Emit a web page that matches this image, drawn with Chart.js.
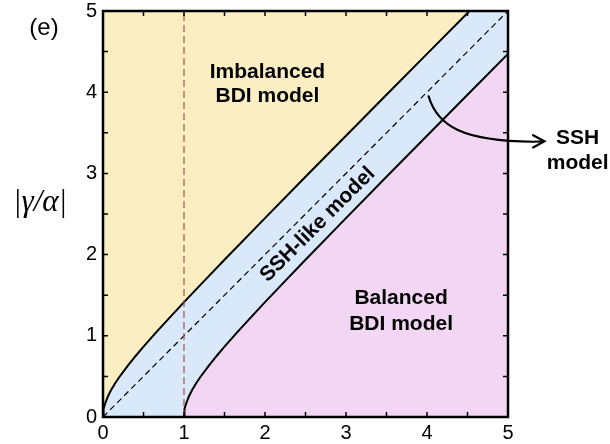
<!DOCTYPE html>
<html><head><meta charset="utf-8">
<script src="https://cdn.jsdelivr.net/npm/chart.js@4"></script>
<style>html,body{margin:0;padding:0;background:#fff}canvas{display:block}</style>
</head><body>
<canvas id="c" width="610" height="444"></canvas>
<script>
// Upper phase boundary (Imbalanced / SSH-like)
const upperX = [0,0.002,0.01,0.03,0.06,0.1,0.15,0.2,0.3,0.4,0.5,0.65,0.8,1,1.25,1.5,2,2.5,3,3.5,4,4.525];
const upperY = [0,0.0448,0.1005,0.1758,0.2522,0.3317,0.4153,0.4899,0.6245,0.7483,0.8660,1.0356,1.2,1.4142,1.6771,1.9365,2.4495,2.9580,3.4641,3.9686,4.4721,5.0];
// Lower phase boundary (SSH-like / Balanced)
const lowerX = [1,1.002,1.01,1.03,1.06,1.1,1.15,1.2,1.3,1.4,1.5,1.65,1.8,2,2.25,2.5,3,3.5,4,4.5,5];
const lowerY = [0,0.0448,0.1005,0.1758,0.2522,0.3317,0.4153,0.4899,0.6245,0.7483,0.8660,1.0356,1.2,1.4142,1.6771,1.9365,2.4495,2.9580,3.4641,3.9686,4.4721];
// SSH line and vertical reference line
const sshX = [0,5];
const sshY = [0,5];
const refX = [1,1];
const refY = [0,5];
const xTickLabels = [0,1,2,3,4,5];
const yTickLabels = [0,1,2,3,4,5];

const YELLOW = 'rgb(250,238,194)';
const BLUE = 'rgb(217,233,250)';
const PINK = 'rgb(243,214,244)';
const FONT = '"Liberation Sans", Arial, Helvetica, sans-serif';

const pts = (xs, ys) => xs.map((x, i) => ({x, y: ys[i]}));

const deco = {
  id: 'deco',
  beforeDatasetsDraw(chart) {
    const {ctx, chartArea: a} = chart;
    ctx.save();
    ctx.fillStyle = BLUE;
    ctx.fillRect(a.left, a.top, a.right - a.left, a.bottom - a.top);
    ctx.restore();
  },
  afterDatasetsDraw(chart) {
    const {ctx, chartArea: a, scales} = chart;
    const X = v => scales.x.getPixelForValue(v);
    const Y = v => scales.y.getPixelForValue(v);
    ctx.save();
    // inward ticks
    ctx.strokeStyle = '#000';
    ctx.lineWidth = 1.5;
    const L = 5;
    scales.x.ticks.forEach(t => {
      const p = X(t.value);
      ctx.beginPath();
      ctx.moveTo(p, a.bottom); ctx.lineTo(p, a.bottom - L);
      ctx.moveTo(p, a.top); ctx.lineTo(p, a.top + L);
      ctx.stroke();
    });
    scales.y.ticks.forEach(t => {
      const p = Y(t.value);
      ctx.beginPath();
      ctx.moveTo(a.left, p); ctx.lineTo(a.left + L, p);
      ctx.moveTo(a.right, p); ctx.lineTo(a.right - L, p);
      ctx.stroke();
    });
    // frame
    ctx.lineWidth = 2.5;
    ctx.strokeRect(a.left, a.top, a.right - a.left, a.bottom - a.top);

    // region labels
    ctx.fillStyle = '#000';
    ctx.textAlign = 'center';
    ctx.textBaseline = 'middle';
    ctx.font = 'bold 21px ' + FONT;
    ctx.fillText('Imbalanced', X(2.03), Y(4.25));
    ctx.fillText('BDI model', X(2.03), Y(3.95));
    ctx.fillText('Balanced', X(3.68), Y(1.46));
    ctx.fillText('BDI model', X(3.68), Y(1.14));
    ctx.fillText('SSH', X(5.86), Y(3.43));
    ctx.fillText('model', X(5.86), Y(3.12));
    ctx.save();
    ctx.translate(X(2.65), Y(2.37));
    ctx.rotate(-Math.PI / 4);
    ctx.fillText('SSH-like model', 0, 0);
    ctx.restore();

    // arrow
    ctx.lineWidth = 2.2;
    ctx.lineCap = 'round';
    ctx.beginPath();
    ctx.moveTo(X(4.02), Y(3.95));
    ctx.bezierCurveTo(X(4.13), Y(3.58), X(4.44), Y(3.40), X(5.31), Y(3.39));
    ctx.lineTo(X(5.44), Y(3.395));
    ctx.stroke();
    ctx.lineJoin = 'miter';
    ctx.beginPath();
    ctx.moveTo(X(5.31), Y(3.47));
    ctx.lineTo(X(5.45), Y(3.395));
    ctx.lineTo(X(5.31), Y(3.32));
    ctx.stroke();

    // panel label and y title
    ctx.font = '24px ' + FONT;
    ctx.fillText('(e)', 44, 28);
    ctx.font = 'italic 31px "Liberation Serif", "DejaVu Serif", serif';
    ctx.fillText('|\u03B3/\u03B1|', 40, 203);
    ctx.restore();
  }
};

new Chart(document.getElementById('c'), {
  type: 'line',
  data: {
    datasets: [
      {data: pts(upperX, upperY), order: 3, borderColor: '#000', borderWidth: 2, fill: 'end', backgroundColor: YELLOW, pointRadius: 0, tension: 0},
      {data: pts(lowerX, lowerY), order: 2, borderColor: '#000', borderWidth: 2, fill: 'start', backgroundColor: PINK, pointRadius: 0, tension: 0},
      {data: pts(sshX, sshY), order: 1, borderColor: '#000', borderWidth: 1.2, borderDash: [6, 4], fill: false, pointRadius: 0},
      {data: pts(refX, refY), order: 0, borderColor: '#a5504c', borderWidth: 1.2, borderDash: [7, 4], fill: false, pointRadius: 0}
    ]
  },
  options: {
    responsive: false,
    animation: false,
    devicePixelRatio: 1,
    layout: {padding: {left: 0, top: 11, right: 102, bottom: 0}},
    plugins: {legend: {display: false}, tooltip: {enabled: false}},
    scales: {
      x: {
        type: 'linear', min: 0, max: 5,
        grid: {display: false, drawTicks: false},
        border: {display: false},
        afterFit: s => { s.height = 27; s.paddingLeft = 0; s.paddingRight = 0; },
        ticks: {
          stepSize: 0.5, autoSkip: false, maxRotation: 0, padding: 4,
          color: '#000', font: {size: 20, family: FONT},
          callback: v => xTickLabels.includes(v) ? String(v) : ''
        }
      },
      y: {
        type: 'linear', min: 0, max: 5,
        grid: {display: false, drawTicks: false},
        border: {display: false},
        afterFit: s => { s.width = 103; s.paddingTop = 0; s.paddingBottom = 0; },
        ticks: {
          stepSize: 0.5, autoSkip: false, padding: 6,
          color: '#000', font: {size: 20, family: FONT},
          callback: v => yTickLabels.includes(v) ? String(v) : ''
        }
      }
    }
  },
  plugins: [deco]
});
</script>
</body></html>
